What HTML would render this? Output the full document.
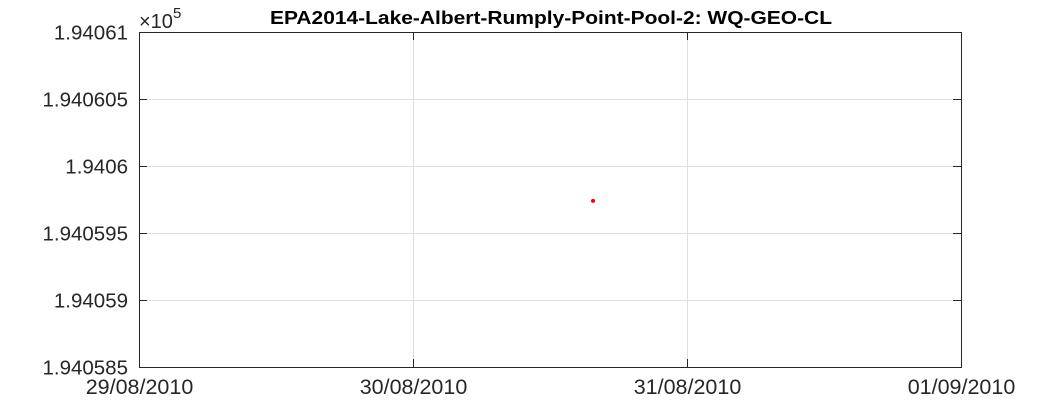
<!DOCTYPE html>
<html><head><meta charset="utf-8"><style>
body{margin:0;background:#fff;}
svg text{font-family:"Liberation Sans",sans-serif;}
</style></head><body>
<svg id="chart" width="1063" height="413" xmlns="http://www.w3.org/2000/svg">
<rect width="1063" height="413" fill="#fff"/>
<g id="grid"></g>
<rect x="139.5" y="32.5" width="822" height="335" fill="none" stroke="#262626" stroke-width="1"/>
<g id="ticks"></g>
<g id="marks"></g>
<text x="551" y="24" text-anchor="middle" font-size="18" font-weight="bold" fill="#000" textLength="562" lengthAdjust="spacingAndGlyphs">EPA2014-Lake-Albert-Rumply-Point-Pool-2: WQ-GEO-CL</text>
<text x="139" y="28" font-size="20" fill="#262626">×10<tspan dy="-10" font-size="15">5</tspan></text>
</svg>
<script>
const yTicks=[1.940585,1.94059,1.940595,1.9406,1.940605,1.94061];
const yTickLabels=["1.940585","1.94059","1.940595","1.9406","1.940605","1.94061"];
const xTicks=[0,1,2,3];
const xTickLabels=["29/08/2010","30/08/2010","31/08/2010","01/09/2010"];
const pointDays=[1.657];
const pointValues=[1.9405974];
const X0=139,X1=961,Y0=367,Y1=32;
function xs(d){return X0+(d-0)/(3-0)*(X1-X0);}
function ys(v){return Y0-(v-1.940585)/(1.94061-1.940585)*(Y0-Y1);}
const NS="http://www.w3.org/2000/svg";
const grid=document.getElementById('grid'),ticks=document.getElementById('ticks'),marks=document.getElementById('marks');
function mk(tag,attrs,parent){const e=document.createElementNS(NS,tag);for(const k in attrs)e.setAttribute(k,attrs[k]);parent.appendChild(e);return e;}
yTicks.forEach((v,i)=>{const y=Math.round(ys(v))+0.5;
 const g=mk('line',{x1:X0,x2:X1,y1:y,y2:y,stroke:'#dfdfdf'},grid);
 
 
 mk('line',{x1:X0,x2:X0+8,y1:y,y2:y,stroke:'#262626'},ticks);
 mk('line',{x1:X1-8,x2:X1,y1:y,y2:y,stroke:'#262626'},ticks);
 const t=mk('text',{x:X0-11,y:y+7,'text-anchor':'end','font-size':'20.5',fill:'#262626'},ticks);
 t.textContent=yTickLabels[i];
 
 
});
xTicks.forEach((d,i)=>{const x=Math.round(xs(d))+0.5;
 const g=mk('line',{x1:x,x2:x,y1:Y1,y2:Y0,stroke:'#dfdfdf'},grid);
 
 
 mk('line',{x1:x,x2:x,y1:Y0-8,y2:Y0,stroke:'#262626'},ticks);
 mk('line',{x1:x,x2:x,y1:Y1,y2:Y1+8,stroke:'#262626'},ticks);
 const t=mk('text',{x:x,y:394,'text-anchor':'middle','font-size':'21.5',fill:'#262626'},ticks);
 t.textContent=xTickLabels[i];
 
 
});
pointDays.forEach((d,i)=>{
 const c=mk('circle',{cx:xs(d),cy:ys(pointValues[i]),r:2,fill:'#ff0000'},marks);
 
 
});
</script>
</body></html>
